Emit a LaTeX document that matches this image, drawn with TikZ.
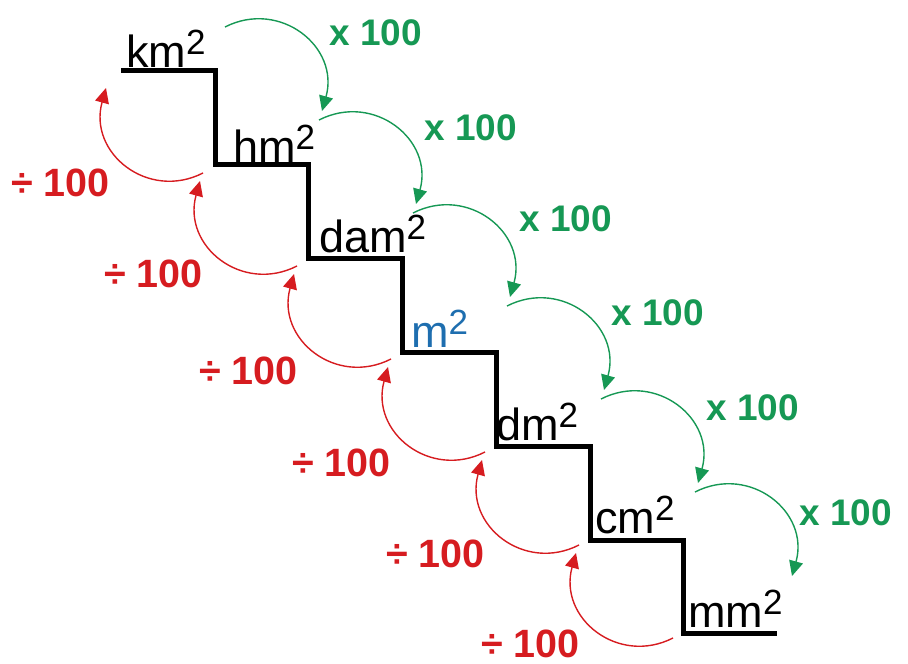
\documentclass[tikz,border=0pt]{standalone}
\usepackage{fontspec}
\setmainfont{Liberation Sans}
\usetikzlibrary{arrows.meta,calc}
\definecolor{grn}{RGB}{22,152,84}
\definecolor{rd}{RGB}{214,28,32}
\definecolor{blu}{RGB}{30,110,175}
\newcommand\tsq{\raisebox{13pt}{\fontsize{35}{40}\selectfont 2}}
\begin{document}
\begin{tikzpicture}[x=1pt,y=-1pt,
  unit/.style={anchor=base west, inner sep=0pt, font=\fontsize{45}{50}\selectfont},
  mul/.style={anchor=base west, inner sep=0pt, text=grn, font=\bfseries\fontsize{37}{40}\selectfont},
  dv/.style={anchor=base west, inner sep=0pt, text=rd, font=\bfseries\fontsize{39.5}{42}\selectfont},
  garc/.style={draw=grn, line width=1.4pt, -{Triangle[length=15pt,width=14pt]}},
  rarc/.style={draw=rd, line width=1.4pt, -{Triangle[length=15pt,width=14pt]}},
  stair/.style={line width=5pt, line join=miter}]
\useasboundingbox (0,0) rectangle (908,664);
% staircase
\draw[stair] (121,70) -- (215,70) -- (215,164) -- (308,164) -- (308,258) -- (402,258) -- (402,352) -- (496,352) -- (496,446) -- (590,446) -- (590,540) -- (683,540) -- (683,633) -- (777,633);
% unit labels
\node[unit] (km) at (126,67) {km\tsq};
\node[unit] (hm) at (233,162) {hm\tsq};
\node[unit] (dam) at (319,252) {dam\tsq};
\node[unit, text=blu] (m) at (411,347) {m\tsq};
\node[unit] (dm) at (496,440) {dm\tsq};
\node[unit] (cm) at (595,533) {cm\tsq};
\node[unit] (mm) at (688,627) {mm\tsq};
% multiply labels
\node[mul] (x1) at (329,45) {x 100};
\node[mul] (x2) at (424,140) {x 100};
\node[mul] (x3) at (519,231) {x 100};
\node[mul] (x4) at (611,325) {x 100};
\node[mul] (x5) at (706,420) {x 100};
\node[mul] (x6) at (799,525) {x 100};
% divide labels
\node[dv] (d1) at (11,196) {÷ 100};
\node[dv] (d2) at (104,287) {÷ 100};
\node[dv] (d3) at (199,384) {÷ 100};
\node[dv] (d4) at (292,476) {÷ 100};
\node[dv] (d5) at (386,567) {÷ 100};
\node[dv] (d6) at (481,657) {÷ 100};
% arcs
\foreach \i in {0,...,5} {
  \coordinate (gs\i) at (225+94*\i, 27+93*\i);
  \coordinate (ge\i) at (225+94*\i+97, 27+93*\i+84);
  \draw[garc] (gs\i) .. controls ($(gs\i)+(55,-28)$) and ($(gs\i)+(115,20)$) .. (ge\i);
  \coordinate (rs\i) at (203+94*\i, 173+93*\i);
  \coordinate (re\i) at (203+94*\i-97, 173+93*\i-85);
  \draw[rarc] (rs\i) .. controls ($(rs\i)+(-55,28)$) and ($(rs\i)+(-115,-20)$) .. (re\i);
}
\end{tikzpicture}
\end{document}
